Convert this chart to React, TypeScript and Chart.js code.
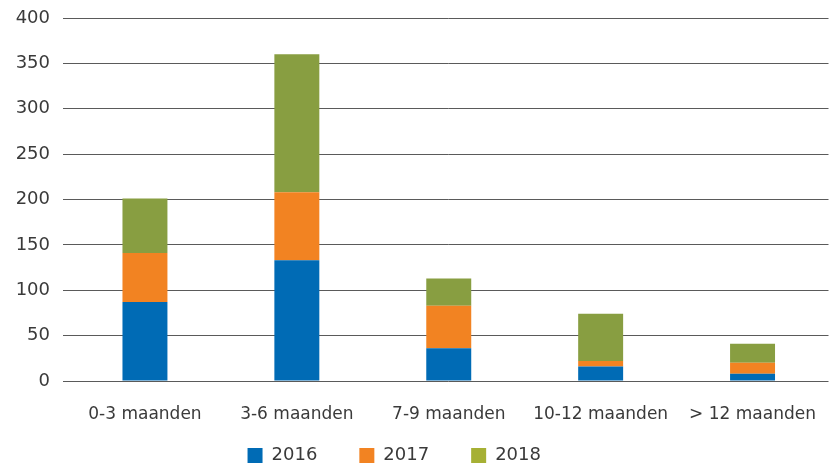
import React, { useEffect, useRef } from "react";
import { Chart, registerables } from "chart.js";

Chart.register(...registerables);

const categories = ["0-3 maanden", "3-6 maanden", "7-9 maanden", "10-12 maanden", "> 12 maanden"];
const values2016 = [87, 133, 36, 16, 8];
const values2017 = [54, 75, 47, 6, 12];
const values2018 = [60, 152, 30, 52, 21];
const seriesLabels = ["2016", "2017", "2018"];
const barColors = ["#006bb5", "#f28322", "#889e41"];
const legendColors = ["#006bb5", "#f28322", "#a6b034"];

const FONT = "'DejaVu Sans', sans-serif";
const TEXT = "#3a3a3a";

const LEGEND_TOP = 404.5;
const LEGEND_DX = -20;

export default function App() {
  const ref = useRef<HTMLCanvasElement | null>(null);

  useEffect(() => {
    document.body.style.margin = "0";
    const canvas = ref.current;
    if (!canvas) return;
    const legendShift = {
      id: "legendShift",
      afterLayout(chart: any) {
        const lg = chart.legend;
        if (!lg) return;
        lg.top = LEGEND_TOP;
        lg.left += LEGEND_DX;
        lg.right += LEGEND_DX;
      },
    };
    const chart = new Chart(canvas, {
      type: "bar",
      data: {
        labels: categories,
        datasets: [values2016, values2017, values2018].map((d, i) => ({
          label: seriesLabels[i],
          data: d,
          backgroundColor: barColors[i],
          borderWidth: 0,
          categoryPercentage: 1,
          barPercentage: 0.296,
        })),
      },
      options: {
        animation: false,
        responsive: false,
        maintainAspectRatio: false,
        layout: { padding: { top: 18, left: 0, right: 3.5, bottom: 0 } },
        plugins: {
          tooltip: { enabled: false },
          legend: {
            position: "bottom",
            maxHeight: 40,
            labels: {
              boxWidth: 15,
              boxHeight: 15,
              padding: 42,
              color: TEXT,
              font: { family: FONT, size: 18 },
              generateLabels: () =>
                seriesLabels.map((t, i) => ({
                  text: t,
                  fillStyle: legendColors[i],
                  strokeStyle: legendColors[i],
                  lineWidth: 0,
                  hidden: false,
                  datasetIndex: i,
                  fontColor: TEXT,
                })),
            },
          },
        },
        scales: {
          x: {
            stacked: true,
            grid: { display: false, drawTicks: false },
            border: { display: false },
            ticks: {
              color: TEXT,
              padding: 23,
              maxRotation: 0,
              autoSkip: false,
              font: { family: FONT, size: 17 },
            },
            afterFit: (scale: any) => {
              scale.height = 45;
              scale.paddingLeft = 0;
              scale.paddingRight = 0;
            },
          },
          y: {
            stacked: true,
            min: 0,
            max: 400,
            grid: { color: "#5a5a5a", lineWidth: 1, drawTicks: true, tickLength: 6 },
            border: { display: false },
            ticks: {
              stepSize: 50,
              color: TEXT,
              padding: 13,
              font: { family: FONT, size: 18 },
            },
            afterFit: (scale: any) => {
              scale.width = 69;
              scale.paddingTop = 0;
              scale.paddingBottom = 0;
            },
          },
        },
      },
      plugins: [legendShift],
    });
    return () => chart.destroy();
  }, []);

  return (
    <div style={{ width: 832, height: 466 }}>
      <canvas ref={ref} width={832} height={466} style={{ display: "block" }} />
    </div>
  );
}
